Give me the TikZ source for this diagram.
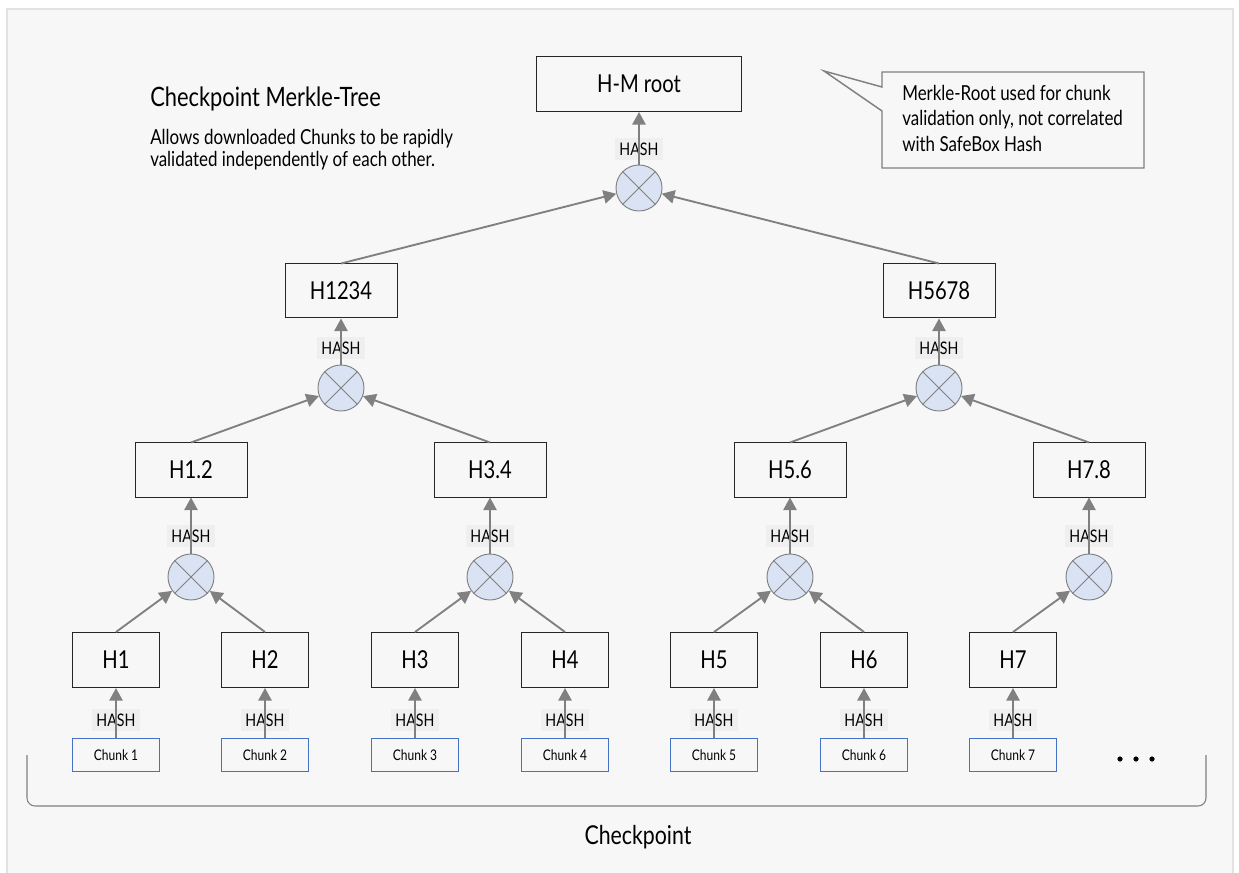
\documentclass[tikz,border=0pt]{standalone}
\usepackage{fontspec}
\setmainfont{Lato}[FakeStretch=0.82]
\usepackage{tikz}
\usetikzlibrary{arrows.meta}

\definecolor{panelbg}{HTML}{F7F7F7}
\definecolor{panelline}{HTML}{E2E2E2}
\definecolor{arrowgray}{HTML}{808080}
\definecolor{xorfill}{HTML}{DAE3F3}
\definecolor{chunkblue}{HTML}{4472C4}
\definecolor{hashbg}{HTML}{EFEFEF}

\begin{document}
\begin{tikzpicture}[x=0.75pt,y=0.75pt,yscale=-1,xscale=1,
	hbox/.style={draw=black!85,line width=0.75pt,minimum width=84pt,minimum height=40.5pt,inner sep=0pt,font=\fontsize{18.5}{22}\selectfont},
	leafbox/.style={hbox,minimum width=65.25pt,minimum height=41.25pt},
	chunkbox/.style={draw=chunkblue,line width=0.75pt,minimum width=65.25pt,minimum height=24.75pt,inner sep=0pt,font=\fontsize{11}{12}\selectfont},
	xorop/.style={circle,draw=arrowgray,line width=0.7pt,fill=xorfill,minimum size=34.5pt,inner sep=0pt},
	hashlbl/.style={fill=hashbg,inner sep=0pt,minimum width=36pt,minimum height=17pt,font=\fontsize{13}{14}\selectfont},
	hashto/.style={draw=arrowgray,line width=1.4pt,-{Triangle[length=9.5pt,width=10pt]}},
	]
	\useasboundingbox (0,0) rectangle (1239,873);
	
	%Shape: Panel
	\draw [fill=panelbg,draw=panelline,line width=1.5pt] (7,9) -- (1233,9) -- (1233,890) -- (7,890) -- cycle ;
	
	% Text Node
	\node [anchor=base west,inner sep=0pt,font=\fontsize{20}{22}\selectfont] (title) at (150,107) {Checkpoint Merkle-Tree};
	% Text Node
	\node [anchor=north west,inner sep=0pt,align=left,font=\fontsize{15.5}{16.5}\selectfont] (subtitle) at (150,129) {Allows downloaded Chunks to be rapidly\\validated independently of each other.};
	
	%Shape: Callout
	\draw [fill=panelbg,draw=arrowgray,line width=1.1pt] (882,72) -- (1144,72) -- (1144,168) -- (882,168) -- (882,111) -- (824,71) -- (882,87) -- cycle ;
	% Text Node
	\node [anchor=north west,inner sep=0pt,align=left,font=\fontsize{15.5}{19}\selectfont] (note) at (902,85) {Merkle-Root used for chunk\\validation only, not correlated\\with SafeBox Hash};
	
	%Hash boxes
	\node [hbox,minimum width=153.75pt,minimum height=41.25pt] (root) at (639,84) {H-M root};
	\node [hbox] (h1234) at (341,291) {H1234};
	\node [hbox] (h5678) at (939,291) {H5678};
	\node [hbox] (h12) at (191,470) {H1.2};
	\node [hbox] (h34) at (490,470) {H3.4};
	\node [hbox] (h56) at (790,470) {H5.6};
	\node [hbox] (h78) at (1089,470) {H7.8};
	
	%Combine circles
	\node [xorop] (c0) at (639,188) {};
	\node [xorop] (c1) at (341,388) {};
	\node [xorop] (c2) at (939,388) {};
	\node [xorop] (c3) at (191,577) {};
	\node [xorop] (c4) at (490,577) {};
	\node [xorop] (c5) at (790,577) {};
	\node [xorop] (c6) at (1089,577) {};
	\foreach \c in {c0,c1,c2,c3,c4,c5,c6}
		\draw [arrowgray,line width=0.7pt] (\c.north east) -- (\c.south west) (\c.north west) -- (\c.south east) ;
	
	%HASH up to the parent
	\foreach \c/\p/\y in {c0/root/149,c1/h1234/348,c2/h5678/348,c3/h12/536,c4/h34/536,c5/h56/536,c6/h78/536} {
		\node [hashlbl] (lbl-\c) at (\p |- 0,\y) {HASH};
		\draw [hashto] (\c.north) -- (\p.south) ;
	}
	
	%Children into the circles
	\draw [hashto] (h1234.north) -- (c0) ;
	\draw [hashto] (h5678.north) -- (c0) ;
	\draw [hashto] (h12.north) -- (c1) ;
	\draw [hashto] (h34.north) -- (c1) ;
	\draw [hashto] (h56.north) -- (c2) ;
	\draw [hashto] (h78.north) -- (c2) ;
	
	%Leaves and chunks
	\foreach \i/\x in {1/116,2/265,3/415,4/565,5/714,6/864,7/1013} {
		\node [leafbox] (h\i) at (\x,660) {H\i};
		\node [chunkbox] (chunk\i) at (\x,755) {Chunk \i};
		\node [hashlbl] (lbl-chunk\i) at (\x,720) {HASH};
		\draw [hashto] (chunk\i.north) -- (h\i.south) ;
	}
	\draw [hashto] (h1.north) -- (c3) ;
	\draw [hashto] (h2.north) -- (c3) ;
	\draw [hashto] (h3.north) -- (c4) ;
	\draw [hashto] (h4.north) -- (c4) ;
	\draw [hashto] (h5.north) -- (c5) ;
	\draw [hashto] (h6.north) -- (c5) ;
	\draw [hashto] (h7.north) -- (c6) ;
	
	%More chunks
	\foreach \x in {1120,1136,1152}
		\fill (\x,759) circle (2.6) ;
	
	%Bracket
	\draw [arrowgray,line width=0.8pt,rounded corners=6pt] (27,755) -- (27,806) -- (1206,806) -- (1206,755) ;
	% Text Node
	\node [inner sep=0pt,font=\fontsize{19.5}{22}\selectfont] (checkpoint) at (638,837) {Checkpoint};
	
\end{tikzpicture}
\end{document}
